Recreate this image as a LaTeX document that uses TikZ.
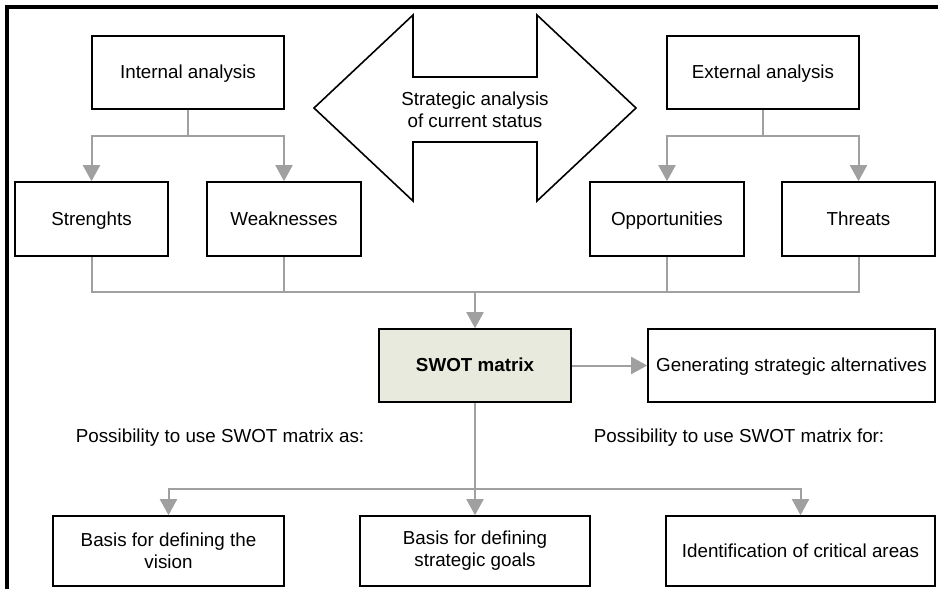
\documentclass[tikz,border=0pt]{standalone}
\usepackage{fontspec}
\setmainfont{Liberation Sans}
\usetikzlibrary{arrows.meta}
\definecolor{swotfill}{RGB}{232,234,221}
\definecolor{conngray}{RGB}{160,160,160}
\tikzset{
  box/.style={draw=black, line width=1.6pt, fill=white, inner sep=0pt, align=center,
    font=\fontsize{18.8}{22}\selectfont},
  single/.style={text height=13.5pt, text depth=1.5pt},
  line/.style={draw=conngray, line width=2pt},
  arr/.style={line, -{Triangle[width=17pt,length=16pt]}, conngray},
  plain/.style={inner sep=0pt, align=center, font=\fontsize{18.8}{22}\selectfont}
}
\begin{document}
\begin{tikzpicture}[x=1pt,y=-1pt]
\useasboundingbox (0,0) rectangle (938,589);
% frame
\draw[line width=4pt] (7,589) -- (7,7) -- (938,7);
% big double arrow
\draw[line width=1.6pt, line join=miter, fill=white]
  (413,15) -- (413,77) -- (537,77) -- (537,15) -- (636,108) -- (537,201) -- (537,142)
  -- (413,142) -- (413,201) -- (314,108) -- cycle;
\node[plain] (sa) at (475,110) {Strategic analysis\\of current status};
% boxes
\node[box, single, minimum width=192pt, minimum height=73pt] (int) at (188,72.5) {Internal analysis};
\node[box, single, minimum width=192pt, minimum height=73pt] (ext) at (763,72.5) {External analysis};
\node[box, single, minimum width=153pt, minimum height=74pt] (str) at (91.5,219) {Strenghts};
\node[box, single, minimum width=154pt, minimum height=74pt] (weak) at (284,219) {Weaknesses};
\node[box, single, minimum width=154pt, minimum height=74pt] (opp) at (667,219) {Opportunities};
\node[box, single, minimum width=153pt, minimum height=74pt] (thr) at (858.5,219) {Threats};
\node[box, single, fill=swotfill, minimum width=192pt, minimum height=73pt, font=\fontsize{18.8}{22}\selectfont\bfseries] (swot) at (475,365.5) {SWOT matrix};
\node[box, single, minimum width=287pt, minimum height=73pt] (gen) at (791.5,365.5) {Generating strategic alternatives};
\node[plain, single] (pa) at (220,436) {Possibility to use SWOT matrix as:};
\node[plain, single] (pf) at (739,436) {Possibility to use SWOT matrix for:};
\node[box, minimum width=231pt, minimum height=70pt] (b1) at (168.5,551) {Basis for defining the\\vision};
\node[box, minimum width=230pt, minimum height=70pt] (b2) at (475,551) {Basis for defining\\strategic goals};
\node[box, single, minimum width=269pt, minimum height=70pt] (b3) at (800.5,551) {Identification of critical areas};
% connectors
\coordinate (ij) at (188,136);
\coordinate (ej) at (763,136);
\coordinate (mj) at (475,292);
\coordinate (bj) at (475,489);
\draw[line] (int.south) -- (ij);
\draw[arr] (ij) -| (str.north);
\draw[arr] (ij) -| (weak.north);
\draw[line] (ext.south) -- (ej);
\draw[arr] (ej) -| (opp.north);
\draw[arr] (ej) -| (thr.north);
\draw[line] (str.south) |- (mj);
\draw[line] (weak.south) |- (mj);
\draw[line] (opp.south) |- (mj);
\draw[line] (thr.south) |- (mj);
\draw[arr] (mj) -- (swot.north);
\draw[arr] (swot.east) -- (gen.west);
\draw[line] (swot.south) -- (bj);
\draw[arr] (bj) -| (b1.north);
\draw[arr] (bj) -- (b2.north);
\draw[arr] (bj) -| (b3.north);
\end{tikzpicture}
\end{document}
